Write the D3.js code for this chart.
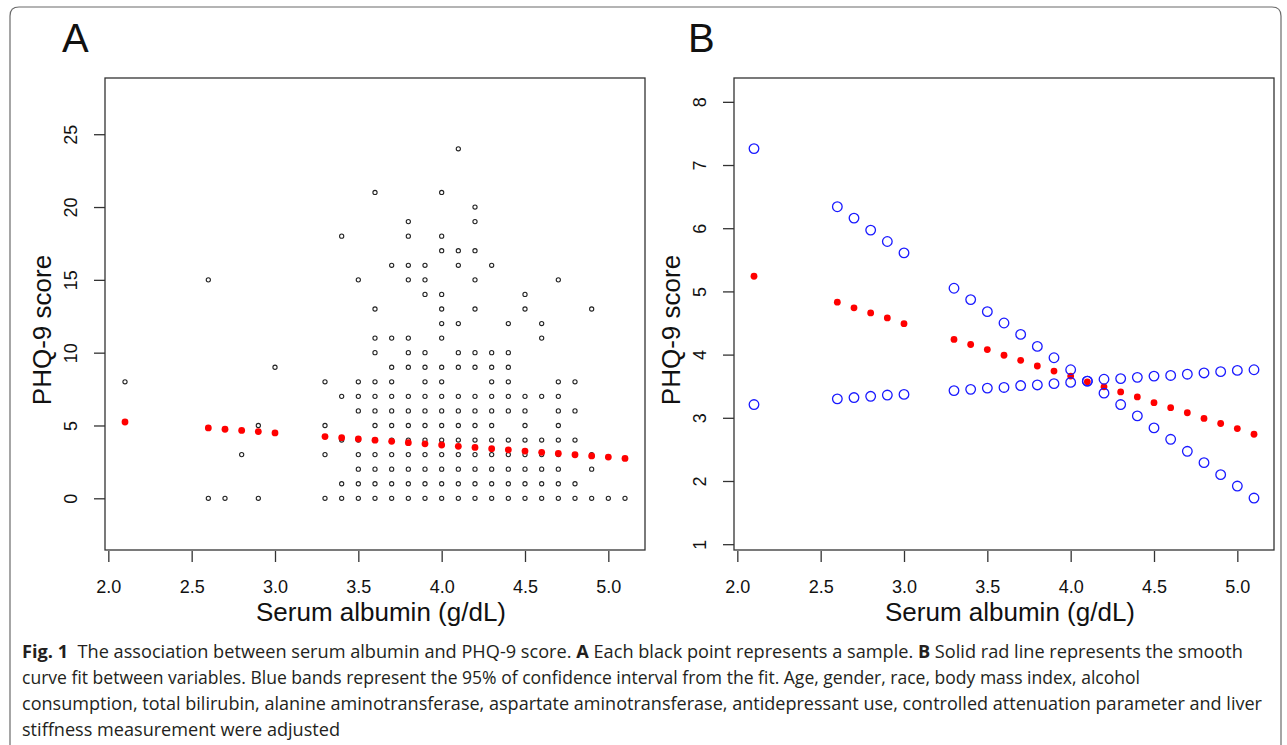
<!DOCTYPE html>
<html>
<head>
<meta charset="utf-8">
<script src="https://cdn.jsdelivr.net/npm/d3@7"></script>
<style>
  html, body { margin: 0; padding: 0; background: #ffffff; }
  svg { display: block; }
</style>
</head>
<body>
<svg id="chart" width="1287" height="745"></svg>
<script>
// ---------------- DATA ----------------
const albuminLevels = [2.1, 2.6, 2.7, 2.8, 2.9, 3.0, 3.3, 3.4, 3.5, 3.6, 3.7, 3.8, 3.9, 4.0, 4.1, 4.2, 4.3, 4.4, 4.5, 4.6, 4.7, 4.8, 4.9, 5.0, 5.1];

// Panel A: observed PHQ-9 scores at each albumin level (one entry per visible point)
const samplePHQByLevel = [
  [8],
  [15, 0],
  [0],
  [3],
  [5, 0],
  [9],
  [8, 5, 3, 0],
  [18, 7, 4, 1, 0],
  [15, 8, 7, 6, 4, 3, 2, 1, 0],
  [21, 13, 11, 10, 8, 7, 6, 5, 4, 3, 2, 1, 0],
  [16, 11, 9, 8, 7, 6, 5, 4, 3, 2, 1, 0],
  [19, 18, 16, 15, 11, 10, 9, 7, 6, 5, 4, 3, 2, 1, 0],
  [16, 15, 14, 10, 9, 8, 7, 6, 5, 4, 3, 2, 1, 0],
  [21, 18, 17, 14, 13, 12, 11, 9, 8, 7, 6, 5, 4, 3, 2, 1, 0],
  [24, 17, 16, 12, 10, 9, 7, 6, 5, 4, 3, 2, 1, 0],
  [20, 19, 17, 15, 13, 10, 9, 7, 6, 5, 4, 3, 2, 1, 0],
  [16, 10, 9, 8, 7, 6, 5, 4, 3, 2, 1, 0],
  [12, 10, 9, 8, 7, 6, 4, 3, 2, 1, 0],
  [14, 13, 7, 6, 5, 4, 3, 2, 1, 0],
  [12, 11, 7, 4, 3, 2, 1, 0],
  [15, 8, 7, 6, 5, 4, 3, 2, 1, 0],
  [8, 6, 4, 3, 1, 0],
  [13, 3, 2, 0],
  [0],
  [0]
];

// Smooth curve fit (red)
const fitPHQ = [5.24, 4.83, 4.74, 4.66, 4.58, 4.49, 4.24, 4.16, 4.08, 3.99, 3.91, 3.82, 3.74, 3.66, 3.57, 3.49, 3.41, 3.33, 3.24, 3.16, 3.08, 2.99, 2.91, 2.83, 2.74];
// 95% CI bands (blue)
const ciBandFalling = [7.26, 6.34, 6.16, 5.97, 5.79, 5.61, 5.05, 4.87, 4.68, 4.50, 4.32, 4.13, 3.95, 3.76, 3.58, 3.39, 3.21, 3.03, 2.84, 2.66, 2.47, 2.29, 2.10, 1.92, 1.73];
const ciBandRising  = [3.21, 3.30, 3.32, 3.34, 3.36, 3.37, 3.43, 3.45, 3.47, 3.48, 3.51, 3.52, 3.54, 3.56, 3.58, 3.61, 3.62, 3.64, 3.66, 3.67, 3.69, 3.71, 3.73, 3.75, 3.76];

const xTickValues = [2.0, 2.5, 3.0, 3.5, 4.0, 4.5, 5.0];
const yTicksA = [0, 5, 10, 15, 20, 25];
const yTicksB = [1, 2, 3, 4, 5, 6, 7, 8];

const panelLabels = ["A", "B"];
const xAxisTitle = "Serum albumin (g/dL)";
const yAxisTitle = "PHQ-9 score";

const captionLines = [
  [["Fig. 1", true], ["  The association between serum albumin and PHQ-9 score. ", false], ["A", true], [" Each black point represents a sample. ", false], ["B", true], [" Solid rad line represents the smooth", false]],
  [["curve fit between variables. Blue bands represent the 95% of confidence interval from the fit. Age, gender, race, body mass index, alcohol", false]],
  [["consumption, total bilirubin, alanine aminotransferase, aspartate aminotransferase, antidepressant use, controlled attenuation parameter and liver", false]],
  [["stiffness measurement were adjusted", false]]
];
const captionWidths = [1221, 1118, 1240, 318];

// ---------------- DRAW ----------------
const svg = d3.select("#chart");
const FONT = "'Liberation Sans', Arial, Helvetica, sans-serif";

// outer frame
svg.append("path")
  .attr("d", "M10,745 L10,16 Q10,7 19,7 L1272,7 Q1281,7 1281,16 L1281,745")
  .attr("fill", "none").attr("stroke", "#6b6b6b").attr("stroke-width", 1.2);

const boxTop = 78, boxBottom = 550, boxW = 540;
const panels = [
  { left: 105, yDomain: [-3.55, 28.86], ticks: yTicksA },
  { left: 734, yDomain: [0.908, 8.377], ticks: yTicksB }
];

panels.forEach((p, i) => {
  const x = d3.scaleLinear().domain([1.98, 5.22]).range([p.left, p.left + boxW]);
  const y = d3.scaleLinear().domain(p.yDomain).range([boxBottom, boxTop]);
  p.x = x; p.y = y;
  const g = svg.append("g");

  // x axis
  const gx = g.append("g").attr("transform", `translate(0,${boxBottom + 1})`)
    .call(d3.axisBottom(x).tickValues(xTickValues).tickFormat(d3.format(".1f")).tickSize(11).tickPadding(18));
  gx.select(".domain").remove();
  gx.selectAll("line").attr("stroke", "#333").attr("stroke-width", 1.3);
  gx.selectAll("text").attr("font-family", FONT).attr("font-size", 18).attr("fill", "#111");

  // y axis
  const gy = g.append("g").attr("transform", `translate(${p.left},0)`)
    .call(d3.axisLeft(y).tickValues(p.ticks).tickFormat(d3.format("d")).tickSize(11));
  gy.select(".domain").remove();
  gy.selectAll("line").attr("stroke", "#333").attr("stroke-width", 1.3);
  gy.selectAll("text")
    .attr("x", null).attr("dy", null)
    .attr("text-anchor", "middle")
    .attr("transform", "translate(-28,0) rotate(-90)")
    .attr("font-family", FONT).attr("font-size", 18).attr("fill", "#111");

  // box
  g.append("rect").attr("x", p.left).attr("y", boxTop).attr("width", boxW).attr("height", boxBottom - boxTop)
    .attr("fill", "none").attr("stroke", "#333").attr("stroke-width", 1.3);

  // titles
  g.append("text").attr("x", p.left + boxW / 2 + 6).attr("y", 621)
    .attr("text-anchor", "middle").attr("font-family", FONT).attr("font-size", 26).attr("fill", "#111")
    .text(xAxisTitle);
  g.append("text").attr("transform", `translate(${p.left - 54},${330}) rotate(-90)`)
    .attr("text-anchor", "middle").attr("font-family", FONT).attr("font-size", 26).attr("fill", "#111")
    .text(yAxisTitle);
  g.append("text").attr("x", p.left - 43 + (i === 1 ? -3 : 0)).attr("y", 52)
    .attr("font-family", FONT).attr("font-size", 40).attr("fill", "#111")
    .text(panelLabels[i]);
});

// Panel A points
const pA = panels[0];
const samples = [];
albuminLevels.forEach((a, i) => samplePHQByLevel[i].forEach(v => samples.push({ a, v })));
svg.append("g").selectAll("circle").data(samples).join("circle")
  .attr("cx", d => pA.x(d.a)).attr("cy", d => pA.y(d.v)).attr("r", 2.1)
  .attr("fill", "none").attr("stroke", "#222").attr("stroke-width", 1.1);
svg.append("g").selectAll("circle").data(albuminLevels).join("circle")
  .attr("cx", d => pA.x(d)).attr("cy", (d, i) => pA.y(fitPHQ[i])).attr("r", 3.4)
  .attr("fill", "#ff0000");

// Panel B
const pB = panels[1];
svg.append("g").selectAll("circle").data(albuminLevels).join("circle")
  .attr("cx", d => pB.x(d)).attr("cy", (d, i) => pB.y(fitPHQ[i])).attr("r", 3.4)
  .attr("fill", "#ff0000");
[ciBandFalling, ciBandRising].forEach(band => {
  svg.append("g").selectAll("circle").data(albuminLevels).join("circle")
    .attr("cx", d => pB.x(d)).attr("cy", (d, i) => pB.y(band[i])).attr("r", 4.8)
    .attr("fill", "none").attr("stroke", "#1a1aff").attr("stroke-width", 1.3);
});

// Caption
const capFont = "'Liberation Sans Narrow', 'Arial Narrow', 'Open Sans', sans-serif";
captionLines.forEach((parts, li) => {
  const t = svg.append("text").attr("x", 22).attr("y", 658 + li * 26)
    .attr("font-family", capFont).attr("font-size", 18).attr("fill", "#231f20")
    .attr("textLength", captionWidths[li]).attr("lengthAdjust", "spacingAndGlyphs")
    .attr("xml:space", "preserve").style("white-space", "pre");
  parts.forEach(([s, bold]) => {
    t.append("tspan").attr("font-weight", bold ? "bold" : "normal").text(s);
  });
});
</script>
</body>
</html>
